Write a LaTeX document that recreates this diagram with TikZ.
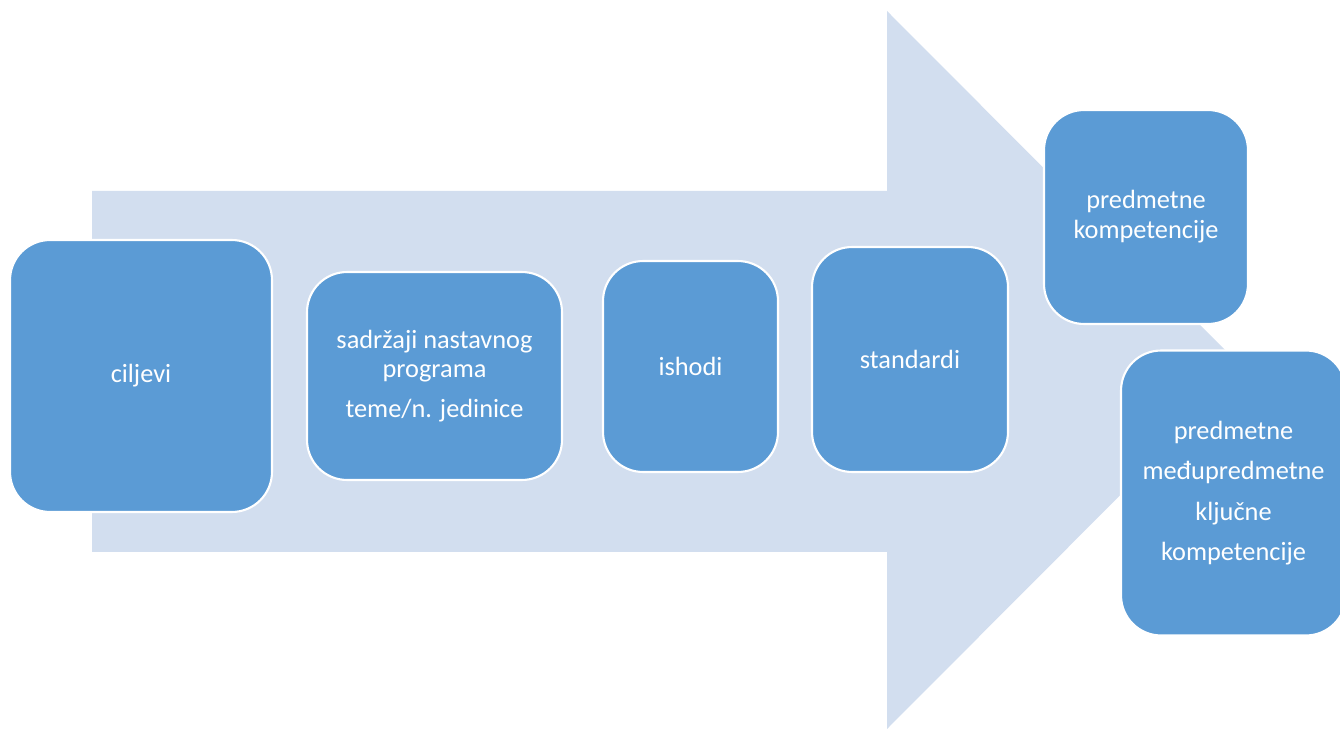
\documentclass[tikz,border=0pt]{standalone}
\usepackage{fontspec}
\setmainfont{Carlito}
\pgfdeclarelayer{bg}
\pgfsetlayers{bg,main}
\definecolor{boxblue}{HTML}{5B9BD5}
\definecolor{arrowblue}{HTML}{D2DEEF}

\begin{document}
\begin{tikzpicture}[x=0.02cm, y=-0.02cm,
        box/.style={draw=white, line width=1.2pt, fill=boxblue, rounded corners=0.8cm,
                text=white, align=center, inner sep=0pt,
                font=\fontsize{15}{17}\selectfont}]
        \useasboundingbox (0,0) rectangle (1340,729);
        \node (cilj) [box, minimum width=5.24cm, minimum height=5.44cm] at (141,376) {ciljevi};
        \node (sadr) [box, minimum width=5.10cm, minimum height=4.16cm] at (434.5,376) {sadržaji nastavnog\\programa\\[5.7pt]teme/n. jedinice};
        \node (isho) [box, minimum width=3.50cm, minimum height=4.22cm] at (690.5,366.5) {ishodi};
        \node (stan) [box, minimum width=3.92cm, minimum height=4.50cm] at (910,359.5) {standardi};
        \node (pkom) [box, minimum width=4.08cm, minimum height=4.28cm] at (1146,217) {predmetne\\kompetencije};
        \node (kkom) [box, minimum width=4.50cm, minimum height=5.70cm] at (1233.5,493) {predmetne\\[6pt]međupredmetne\\[6pt]ključne\\[6pt]kompetencije};
        \begin{pgfonlayer}{bg}
                \fill [arrowblue] (92,191) -- (887,191) -- (887,11) -- (1245,370)
                        -- (887,729) -- (887,552) -- (92,552) -- cycle;
        \end{pgfonlayer}
\end{tikzpicture}
\end{document}
